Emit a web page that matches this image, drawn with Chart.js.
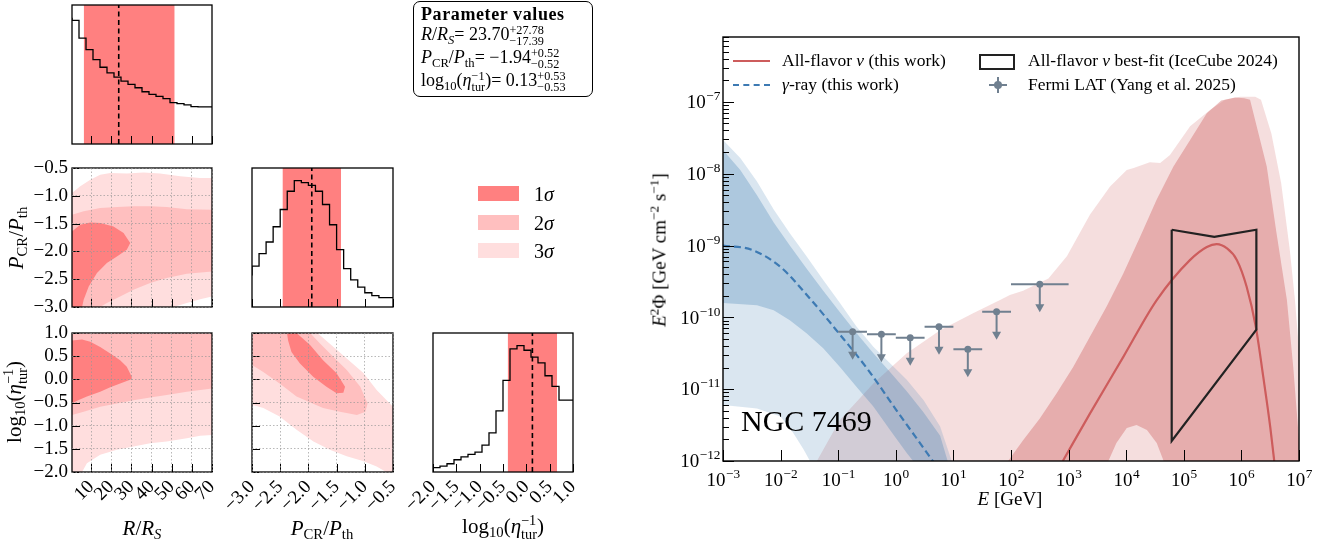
<!DOCTYPE html>
<html>
<head>
<meta charset="utf-8">
<title>NGC 7469 posterior and spectrum</title>
<script src="https://cdn.jsdelivr.net/npm/chart.js@4.4.1/dist/chart.umd.min.js"></script>
<style>
  body { margin: 0; background: #fff; }
  #fig { position: relative; width: 1331px; height: 544px; overflow: hidden;
         font-family: 'Liberation Serif', 'DejaVu Serif', serif; color: #000; }
  #fig canvas { position: absolute; left: 0; top: 0; }
  .t { position: absolute; white-space: nowrap; transform: translate(-50%, -50%); line-height: 1; }
  .rot { transform: translate(-50%, -50%) rotate(-90deg); }
  sub, sup { font-size: 70%; line-height: 0; }
  sub { vertical-align: -0.3em; }
  sup { vertical-align: 0.55em; }
  .ss { display: inline-block; font-size: 68%; line-height: 0.95; vertical-align: -0.42em; text-align: left; }
  .ss > span { display: block; }
  #pbox { position: absolute; left: 413px; top: 1px; width: 180px; height: 96px; border: 1.4px solid #000;
          border-radius: 7px; padding: 1px 0 0 7px; font-size: 18px; line-height: 22px; box-sizing: border-box; }
  #pbox > div { height: 23px; white-space: nowrap; }
  #pbox .hd { font-weight: bold; letter-spacing: 0.6px; height: 20px; }
  .patch { position: absolute; width: 41px; height: 15px; }
  .leg { position: absolute; white-space: nowrap; font-size: 17.5px; line-height: 1; transform: translateY(-50%); }
  .hline { position: absolute; width: 37px; height: 0; }
</style>
</head>
<body>
<div id="fig">
  <canvas id="hR"></canvas>
  <canvas id="cRP"></canvas>
  <canvas id="hP"></canvas>
  <canvas id="cRE"></canvas>
  <canvas id="cPE"></canvas>
  <canvas id="hE"></canvas>
  <canvas id="sed"></canvas>

  <!-- corner plot axis titles -->
  <div class="t rot" style="left:16px; top:238px; font-size:21px;"><i>P</i><sub>CR</sub>/<i>P</i><sub>th</sub></div>
  <div class="t rot" style="left:16px; top:402px; font-size:21px;">log<sub>10</sub>(<i>η</i><span class="ss"><span>−1</span><span>tur</span></span>)</div>
  <div class="t" style="left:142px; top:528px; font-size:21px;"><i>R</i>/<i>R<sub>S</sub></i></div>
  <div class="t" style="left:322px; top:528px; font-size:21px;"><i>P</i><sub>CR</sub>/<i>P</i><sub>th</sub></div>
  <div class="t" style="left:503px; top:528px; font-size:21px;">log<sub>10</sub>(<i>η</i><span class="ss"><span>−1</span><span>tur</span></span>)</div>

  <div id="pbox"></div>

  <!-- contour level key -->
  <div class="patch" style="left:478px; top:186px; background:#ff8080;"></div>
  <div class="leg" style="left:534px; top:194px; font-size:20px;">1<i>σ</i></div>
  <div class="patch" style="left:478px; top:215px; background:#ffbfbf;"></div>
  <div class="leg" style="left:534px; top:223px; font-size:20px;">2<i>σ</i></div>
  <div class="patch" style="left:478px; top:243px; background:#ffdede;"></div>
  <div class="leg" style="left:534px; top:251px; font-size:20px;">3<i>σ</i></div>

  <!-- spectrum axis titles -->
  <div class="t rot" style="left:659px; top:250px; font-size:19px;"><i>E</i><sup>2</sup>Φ [GeV cm<sup>−2</sup> s<sup>−1</sup>]</div>
  <div class="t" style="left:1010px; top:498px; font-size:19px;"><i>E</i> [GeV]</div>
  <div style="position:absolute; left:741px; top:406px; font-size:30px; line-height:1; white-space:nowrap;">NGC 7469</div>

  <!-- spectrum legend -->
  <div class="hline" style="left:733px; top:60px; border-top:2px solid #cd5c5c;"></div>
  <div class="leg" style="left:782px; top:61px;">All-flavor <i>ν</i> (this work)</div>
  <div class="hline" style="left:733px; top:84px; border-top:2px dashed #3d7ab3;"></div>
  <div class="leg" style="left:782px; top:85px;"><i>γ</i>-ray (this work)</div>
  <div style="position:absolute; left:979px; top:54px; width:32px; height:12px; border:2px solid #222;"></div>
  <div class="leg" style="left:1028px; top:61px;">All-flavor <i>ν</i> best-fit (IceCube 2024)</div>
  <div style="position:absolute; left:989px; top:84px; width:18px; height:2px; background:#708090;"></div>
  <div style="position:absolute; left:997px; top:77px; width:2px; height:16px; background:#708090;"></div>
  <div style="position:absolute; left:994px; top:81px; width:8px; height:8px; border-radius:50%; background:#708090;"></div>
  <div class="leg" style="left:1028px; top:85px;">Fermi LAT (Yang et al. 2025)</div>
</div>

<script>
// ---------------- corner plot: marginals and summary ----------------
const rRange = [0.5, 70];
const pRange = [-3.0, -0.5];
const eRange = [-2.0, 1.0];
const rTicks = [10, 20, 30, 40, 50, 60, 70];
const pTicks = [-3.0, -2.5, -2.0, -1.5, -1.0, -0.5];
const eTicks = [-2.0, -1.5, -1.0, -0.5, 0.0, 0.5, 1.0];

// histogram counts, 20 equal bins over each range
const rCounts = [382, 374, 320, 285, 255, 232, 215, 202, 190, 180, 170, 158, 150, 144, 137, 125, 122, 118, 113, 112];
const pCounts = [95, 123, 161, 196, 242, 294, 349, 381, 375, 367, 349, 309, 248, 173, 116, 82, 60, 43, 34, 28];
const eCounts = [9, 13, 18, 25, 37, 46, 53, 60, 81, 118, 185, 277, 372, 382, 368, 347, 330, 291, 259, 217];

// median, upper error, lower error
const rFit = [23.70, 27.78, 17.39];
const pFit = [-1.94, 0.52, 0.52];
const eFit = [0.13, 0.53, 0.53];

// credible regions: [x, y] outlines
const rp3 = [[0.5,-0.95],[4.6,-0.83],[9.6,-0.71],[14.5,-0.62],[19.5,-0.59],[27.7,-0.60],[36.0,-0.58],[44.2,-0.60],
             [54.2,-0.65],[64.1,-0.68],[70,-0.68],[70,-2.81],[64.1,-2.86],[57.5,-2.93],[50.9,-3.0],[0.5,-3.0]];
const rp2 = [[0.5,-1.34],[6.3,-1.28],[14.5,-1.22],[22.8,-1.20],[31.0,-1.19],[39.3,-1.19],[47.5,-1.20],[57.5,-1.24],
             [70,-1.25],[70,-2.36],[57.5,-2.40],[47.5,-2.48],[39.3,-2.57],[31.0,-2.69],[24.4,-2.81],[17.8,-2.93],
             [14.5,-3.0],[0.5,-3.0]];
const rp1 = [[0.5,-1.64],[4.6,-1.52],[9.6,-1.48],[14.5,-1.49],[21.1,-1.55],[26.1,-1.67],[29.4,-1.85],[27.7,-1.97],
             [22.8,-2.09],[17.8,-2.21],[12.9,-2.39],[8.8,-2.63],[6.3,-2.87],[5.5,-3.0],[0.5,-3.0]];

const re3 = [[0.5,1.0],[70,1.0],[70,-1.20],[64.1,-1.22],[57.5,-1.27],[47.5,-1.34],[39.3,-1.38],[31.0,-1.45],
             [22.8,-1.52],[14.5,-1.63],[7.9,-1.81],[5.5,-2.0],[0.5,-2.0]];
const re2 = [[0.5,1.0],[70,1.0],[70,-0.20],[57.5,-0.27],[47.5,-0.34],[39.3,-0.39],[31.0,-0.45],[22.8,-0.52],
             [14.5,-0.59],[6.3,-0.70],[0.5,-0.77]];
const re1 = [[0.5,0.84],[5.5,0.86],[9.6,0.81],[14.5,0.70],[19.5,0.56],[24.4,0.41],[27.7,0.27],[30.2,0.05],
             [30.0,0.0],[24.4,-0.09],[19.5,-0.17],[14.5,-0.27],[7.9,-0.37],[3.0,-0.46],[0.5,-0.52]];

const pe3 = [[-3.0,1.0],[-1.84,1.0],[-1.62,0.77],[-1.32,0.45],[-1.02,0.13],[-0.79,-0.23],[-0.5,-0.59],[-0.5,-2.0],
             [-0.62,-2.0],[-0.79,-1.88],[-1.02,-1.77],[-1.32,-1.66],[-1.62,-1.52],[-1.91,-1.34],[-2.21,-1.09],
             [-2.51,-0.80],[-2.80,-0.62],[-3.0,-0.55]];
const pe2 = [[-3.0,1.0],[-1.97,1.0],[-1.79,0.77],[-1.56,0.49],[-1.32,0.20],[-1.08,-0.16],[-0.95,-0.52],[-0.99,-0.70],
             [-1.14,-0.77],[-1.44,-0.70],[-1.74,-0.62],[-2.21,-0.37],[-2.51,-0.09],[-2.80,0.16],[-3.0,0.31]];
const pe1 = [[-2.38,1.0],[-2.21,1.0],[-1.97,0.74],[-1.74,0.41],[-1.50,0.13],[-1.35,-0.16],[-1.38,-0.29],[-1.50,-0.30],
             [-1.68,-0.16],[-1.91,0.05],[-2.15,0.34],[-2.30,0.59],[-2.36,0.84]];

// ---------------- spectrum (log10 E [GeV], log10 E^2 Phi) ----------------
const eDecades = [-3, -2, -1, 0, 1, 2, 3, 4, 5, 6, 7];
const fDecades = [-12, -11, -10, -9, -8, -7];

const gammaLogE = [-3.0, -2.5, -2.0, -1.5, -1.0, -0.5, 0.0, 0.5, 1.0];
const gammaLogF = [-9.0, -9.06, -9.30, -9.73, -10.21, -10.71, -11.28, -11.84, -12.4];

const nuLogE = [2.90, 3.37, 3.95, 4.53, 5.11, 5.40, 5.57, 5.75, 5.92, 6.09, 6.25, 6.38, 6.50, 6.57];
const nuLogF = [-12.0, -11.34, -10.55, -9.76, -9.20, -9.02, -8.98, -9.04, -9.20, -9.57, -10.13, -10.83, -11.52, -12.0];

const gammaOuter = [[-3,-7.53],[-2.70,-7.78],[-2.41,-8.11],[-2.12,-8.50],[-1.84,-8.83],[-1.55,-9.15],[-1.26,-9.48],
                    [-0.97,-9.80],[-0.68,-10.13],[-0.39,-10.41],[-0.10,-10.64],[0.19,-10.87],[0.48,-11.15],[0.77,-11.52],
                    [0.97,-12.0],[-1.49,-12.0],[-1.60,-11.84],[-1.78,-11.61],[-2.0,-11.38],[-2.41,-11.27],[-3,-11.22]];
const gammaInner = [[-3,-7.67],[-2.70,-7.95],[-2.41,-8.30],[-2.12,-8.68],[-1.84,-9.00],[-1.55,-9.32],[-1.26,-9.63],
                    [-0.97,-9.93],[-0.68,-10.22],[-0.39,-10.50],[-0.10,-10.76],[0.19,-11.03],[0.48,-11.32],[0.77,-11.65],
                    [0.90,-12.0],[0.30,-12.0],[0.19,-11.89],[-0.10,-11.57],[-0.39,-11.24],[-0.68,-10.97],[-0.97,-10.69],
                    [-1.26,-10.43],[-1.55,-10.22],[-1.84,-10.04],[-2.12,-9.90],[-2.41,-9.83],[-3,-9.80]];
const nuOuter = [[-1.37,-12.0],[-0.97,-11.43],[-0.39,-10.92],[0.19,-10.50],[0.77,-10.18],[1.35,-9.94],[1.81,-9.76],
                 [1.98,-9.69],[2.21,-9.63],[2.65,-9.46],[2.97,-9.15],[3.37,-8.57],[3.72,-8.18],[4.01,-7.95],[4.13,-7.92],
                 [4.41,-7.84],[4.59,-7.85],[4.76,-7.74],[5.11,-7.34],[5.46,-7.11],[5.72,-6.97],[5.98,-6.93],[6.24,-6.93],
                 [6.34,-6.97],[6.52,-7.44],[6.69,-8.13],[6.84,-9.06],[6.93,-9.76],[7.0,-10.45],[7.05,-12.0]];
const nuInner = [[1.95,-12.0],[2.21,-11.71],[2.50,-11.41],[2.79,-11.06],[3.08,-10.69],[3.37,-10.27],[3.66,-9.85],
                 [3.95,-9.39],[4.24,-8.88],[4.53,-8.36],[4.82,-7.90],[5.11,-7.53],[5.40,-7.16],[5.65,-6.98],[5.89,-6.94],
                 [6.05,-6.95],[6.15,-6.97],[6.44,-7.90],[6.61,-8.83],[6.79,-9.76],[6.90,-10.69],[6.99,-11.61],[7.02,-12.0],
                 [4.65,-12.0],[4.53,-11.75],[4.36,-11.57],[4.18,-11.50],[4.01,-11.54],[3.83,-11.75],[3.69,-12.0]];

// IceCube best-fit butterfly outline
const icLogE = [4.79, 5.53, 6.26, 6.26, 4.79, 4.79];
const icLogF = [-8.78, -8.88, -8.78, -10.17, -11.72, -8.78];

// Fermi-LAT upper limits [GeV]
const fermiE   = [0.178, 0.562, 1.78, 5.62, 17.8, 56.2, 316];
const fermiElo = [0.1, 0.316, 1.0, 3.16, 10, 31.6, 100];
const fermiEhi = [0.316, 1.0, 3.16, 10, 31.6, 100, 1000];
const fermiUL  = [6.3e-11, 5.8e-11, 5.2e-11, 7.4e-11, 3.6e-11, 1.2e-10, 2.9e-10];

// ---------------- helpers ----------------
const W = 1331, H = 544, AX = 70;
const FONT = "'Liberation Serif', 'DejaVu Serif', serif";
const MINUS = '\u2212';
const C1 = '#ff8080', C2 = '#ffbfbf', C3 = '#ffdede';

const fmt = (v, d) => (v < 0 ? MINUS : '') + Math.abs(v).toFixed(d);
const xy = list => list.map(([x, y]) => ({x, y}));
const logxy = list => list.map(([x, y]) => ({x: 10 ** x, y: 10 ** y}));
const zipLog = (xs, ys) => xs.map((x, i) => ({x: 10 ** x, y: 10 ** ys[i]}));

function fixX(s) { s.height = AX; s.paddingLeft = 0; s.paddingRight = 0; }
function fixY(s) { s.width = AX; s.paddingTop = 0; s.paddingBottom = 0; }

function region(data, color, order) {
  return {data, fill: 'shape', backgroundColor: color, borderWidth: 0, pointRadius: 0, tension: 0, order};
}

// frame, inward tick marks and 10^n labels
const axesFrame = {
  id: 'axesFrame',
  afterDatasetsDraw(chart, args, o) {
    const {ctx, chartArea: a, scales} = chart;
    ctx.save();
    ctx.strokeStyle = '#000';
    ctx.lineWidth = 1;
    ctx.beginPath();
    if (o.xTick) {
      scales.x.ticks.forEach(t => {
        const p = Math.round(scales.x.getPixelForValue(t.value)) + 0.5;
        ctx.moveTo(p, a.bottom);
        ctx.lineTo(p, a.bottom - (t.major ? o.xTick : o.xTick / 2));
      });
    }
    if (o.yTick) {
      scales.y.ticks.forEach(t => {
        const p = Math.round(scales.y.getPixelForValue(t.value)) + 0.5;
        ctx.moveTo(a.left, p);
        ctx.lineTo(a.left + (t.major ? o.yTick : o.yMinor), p);
      });
    }
    ctx.stroke();
    ctx.lineWidth = o.frame || 1.3;
    ctx.strokeRect(a.left, a.top, a.right - a.left, a.bottom - a.top);

    if (o.powLabels) {
      const size = o.powLabels;
      ctx.fillStyle = '#000';
      scales.x.ticks.forEach(t => {
        if (!t.major) return;
        drawPow(ctx, Math.round(Math.log10(t.value)), scales.x.getPixelForValue(t.value), a.bottom + 25, 'center', size);
      });
      scales.y.ticks.forEach(t => {
        if (!t.major) return;
        drawPow(ctx, Math.round(Math.log10(t.value)), a.left - 3, scales.y.getPixelForValue(t.value) + size * 0.33, 'right', size);
      });
    }
    ctx.restore();
  }
};
Chart.register(axesFrame);

function drawPow(ctx, exp, x, y, align, size) {
  const base = '10';
  const sup = (exp < 0 ? MINUS : '') + Math.abs(exp);
  ctx.textAlign = 'left';
  ctx.textBaseline = 'alphabetic';
  ctx.font = size + 'px ' + FONT;
  const bw = ctx.measureText(base).width;
  ctx.font = (size * 0.7) + 'px ' + FONT;
  const sw = ctx.measureText(sup).width;
  const x0 = align === 'center' ? x - (bw + sw) / 2 : x - bw - sw;
  ctx.font = size + 'px ' + FONT;
  ctx.fillText(base, x0, y);
  ctx.font = (size * 0.7) + 'px ' + FONT;
  ctx.fillText(sup, x0 + bw + 0.5, y - size * 0.42);
}

function linAxis(isX, range, ticks, labels, grid, digits) {
  return {
    type: 'linear', min: range[0], max: range[1],
    afterBuildTicks: s => { s.ticks = ticks.map(v => ({value: v, major: true})); },
    afterFit: isX ? fixX : fixY,
    grid: grid ? {display: true, color: 'rgba(150,150,150,0.85)', lineWidth: 0.8, drawTicks: false, z: 1}
               : {display: false, drawTicks: false},
    border: {display: false, dash: [1.5, 2]},
    ticks: {
      display: labels, autoSkip: false, padding: isX ? 4 : 4,
      minRotation: isX ? 45 : 0, maxRotation: isX ? 45 : 0,
      color: '#000', font: {family: FONT, size: 19},
      callback: v => fmt(v, digits)
    }
  };
}

function makeChart(id, box, datasets, scales, frame, extra) {
  const cv = document.getElementById(id);
  cv.width = W; cv.height = H;
  return new Chart(cv, {
    type: 'line',
    data: {datasets},
    options: {
      responsive: false, animation: false, devicePixelRatio: 1,
      layout: {padding: {left: box[0] - AX, top: box[1], right: W - box[2], bottom: H - box[3] - AX}},
      plugins: {legend: {display: false}, tooltip: {enabled: false}, axesFrame: frame},
      elements: {point: {radius: 0}, line: {tension: 0}},
      scales
    },
    plugins: extra || []
  });
}

// step-outline marginal with shaded interval and dashed median
function marginal(range, counts, fit) {
  const top = Math.max(...counts) * 1.1;
  const w = (range[1] - range[0]) / counts.length;
  const steps = counts.map((c, i) => ({x: range[0] + i * w, y: c}));
  steps.push({x: range[1], y: counts[counts.length - 1]});
  return {
    top,
    datasets: [
      {data: steps, stepped: 'after', borderColor: '#000', borderWidth: 1.3, pointRadius: 0, fill: false, order: 2},
      {data: [{x: fit[0], y: 0}, {x: fit[0], y: top}], borderColor: '#000', borderWidth: 1.6, borderDash: [5, 3.5],
       pointRadius: 0, fill: false, order: 1},
      {data: [{x: fit[0] - fit[2], y: top}, {x: fit[0] + fit[1], y: top}], fill: 'origin', backgroundColor: C1,
       borderWidth: 0, pointRadius: 0, order: 5}
    ]
  };
}

function histY(top) {
  return {type: 'linear', min: 0, max: top, afterFit: fixY, grid: {display: false, drawTicks: false},
          border: {display: false}, ticks: {display: false}};
}

const cornerFrame = {xTick: 8, yTick: 8, yMinor: 4};
const histFrame = {xTick: 8, yTick: 0};

// ---------------- corner panels ----------------
const mR = marginal(rRange, rCounts, rFit);
makeChart('hR', [72, 5, 212, 144], mR.datasets,
  {x: linAxis(true, rRange, rTicks, false, false, 0), y: histY(mR.top)}, histFrame);

makeChart('cRP', [72, 168, 212, 307],
  [region(xy(rp3), C3, 30), region(xy(rp2), C2, 20), region(xy(rp1), C1, 10)],
  {x: linAxis(true, rRange, rTicks, false, true, 0), y: linAxis(false, pRange, pTicks, true, true, 1)}, cornerFrame);

const mP = marginal(pRange, pCounts, pFit);
makeChart('hP', [252, 168, 393, 307], mP.datasets,
  {x: linAxis(true, pRange, pTicks, false, false, 1), y: histY(mP.top)}, histFrame);

makeChart('cRE', [72, 333, 212, 472],
  [region(xy(re3), C3, 30), region(xy(re2), C2, 20), region(xy(re1), C1, 10)],
  {x: linAxis(true, rRange, rTicks, true, true, 0), y: linAxis(false, eRange, eTicks, true, true, 1)}, cornerFrame);

makeChart('cPE', [252, 333, 393, 472],
  [region(xy(pe3), C3, 30), region(xy(pe2), C2, 20), region(xy(pe1), C1, 10)],
  {x: linAxis(true, pRange, pTicks, true, true, 1), y: linAxis(false, eRange, eTicks, false, true, 1)}, cornerFrame);

const mE = marginal(eRange, eCounts, eFit);
makeChart('hE', [433, 333, 573, 472], mE.datasets,
  {x: linAxis(true, eRange, eTicks, true, false, 1), y: histY(mE.top)}, histFrame);

// parameter summary box, written from the same fit values
function pmLine(label, fit) {
  return '<div>' + label + '= ' + fmt(fit[0], 2) +
    '<span class="ss"><span>+' + fit[1].toFixed(2) + '</span><span>' + MINUS + fit[2].toFixed(2) + '</span></span></div>';
}
document.getElementById('pbox').innerHTML =
  '<div class="hd">Parameter values</div>' +
  pmLine('<i>R</i>/<i>R<sub>S</sub></i>', rFit) +
  pmLine('<i>P</i><sub>CR</sub>/<i>P</i><sub>th</sub>', pFit) +
  pmLine('log<sub>10</sub>(<i>η</i><span class="ss"><span>' + MINUS + '1</span><span>tur</span></span>)', eFit);

// ---------------- spectrum panel ----------------
const slate = '#708090';

// Fermi-LAT bins and downward arrows
const fermiBars = {
  id: 'fermiBars',
  afterDatasetsDraw(chart) {
    const {ctx, scales: {x, y}} = chart;
    ctx.save();
    ctx.strokeStyle = slate; ctx.fillStyle = slate; ctx.lineWidth = 2;
    fermiUL.forEach((ul, i) => {
      const py = y.getPixelForValue(ul);
      const px = x.getPixelForValue(fermiE[i]);
      ctx.beginPath();
      ctx.moveTo(x.getPixelForValue(fermiElo[i]), py);
      ctx.lineTo(x.getPixelForValue(fermiEhi[i]), py);
      ctx.moveTo(px, py);
      ctx.lineTo(px, py + 21);
      ctx.stroke();
      ctx.beginPath();
      ctx.moveTo(px - 4.5, py + 20);
      ctx.lineTo(px + 4.5, py + 20);
      ctx.lineTo(px, py + 28);
      ctx.closePath();
      ctx.fill();
    });
    ctx.restore();
  }
};

const minorY = [];
fDecades.forEach(e => { for (let m = 1; m <= 9; m++) if (m * 10 ** e <= 8e-7) minorY.push({value: m * 10 ** e, major: m === 1}); });

makeChart('sed', [723, 37, 1299, 461], [
    region(logxy(nuOuter), 'rgba(205,92,92,0.2)', 40),
    region(logxy(nuInner), 'rgba(205,92,92,0.38)', 39),
    region(logxy(gammaOuter), 'rgba(70,130,180,0.2)', 38),
    region(logxy(gammaInner), 'rgba(70,130,180,0.3)', 37),
    {data: zipLog(gammaLogE, gammaLogF), borderColor: '#3d7ab3', borderWidth: 2.2, borderDash: [7, 4],
     cubicInterpolationMode: 'monotone', pointRadius: 0, fill: false, order: 3},
    {data: zipLog(nuLogE, nuLogF), borderColor: '#cd5c5c', borderWidth: 2.2,
     cubicInterpolationMode: 'monotone', pointRadius: 0, fill: false, order: 2},
    {data: zipLog(icLogE, icLogF), borderColor: '#222', borderWidth: 2.2, borderJoinStyle: 'miter',
     pointRadius: 0, fill: false, order: 1},
    {data: fermiE.map((e, i) => ({x: e, y: fermiUL[i]})), showLine: false, pointRadius: 3.5,
     pointBackgroundColor: slate, pointBorderWidth: 0, order: 0}
  ], {
    x: {type: 'logarithmic', min: 1e-3, max: 1e7, afterFit: fixX,
        afterBuildTicks: s => { s.ticks = eDecades.map(e => ({value: 10 ** e, major: true})); },
        grid: {display: false, drawTicks: false}, border: {display: false}, ticks: {display: false}},
    y: {type: 'logarithmic', min: 1e-12, max: 8e-7, afterFit: fixY,
        afterBuildTicks: s => { s.ticks = minorY.slice(); },
        grid: {display: false, drawTicks: false}, border: {display: false}, ticks: {display: false}}
  }, {xTick: 11, yTick: 11, yMinor: 6, frame: 1.4, powLabels: 19}, [fermiBars]);
</script>
</body>
</html>
